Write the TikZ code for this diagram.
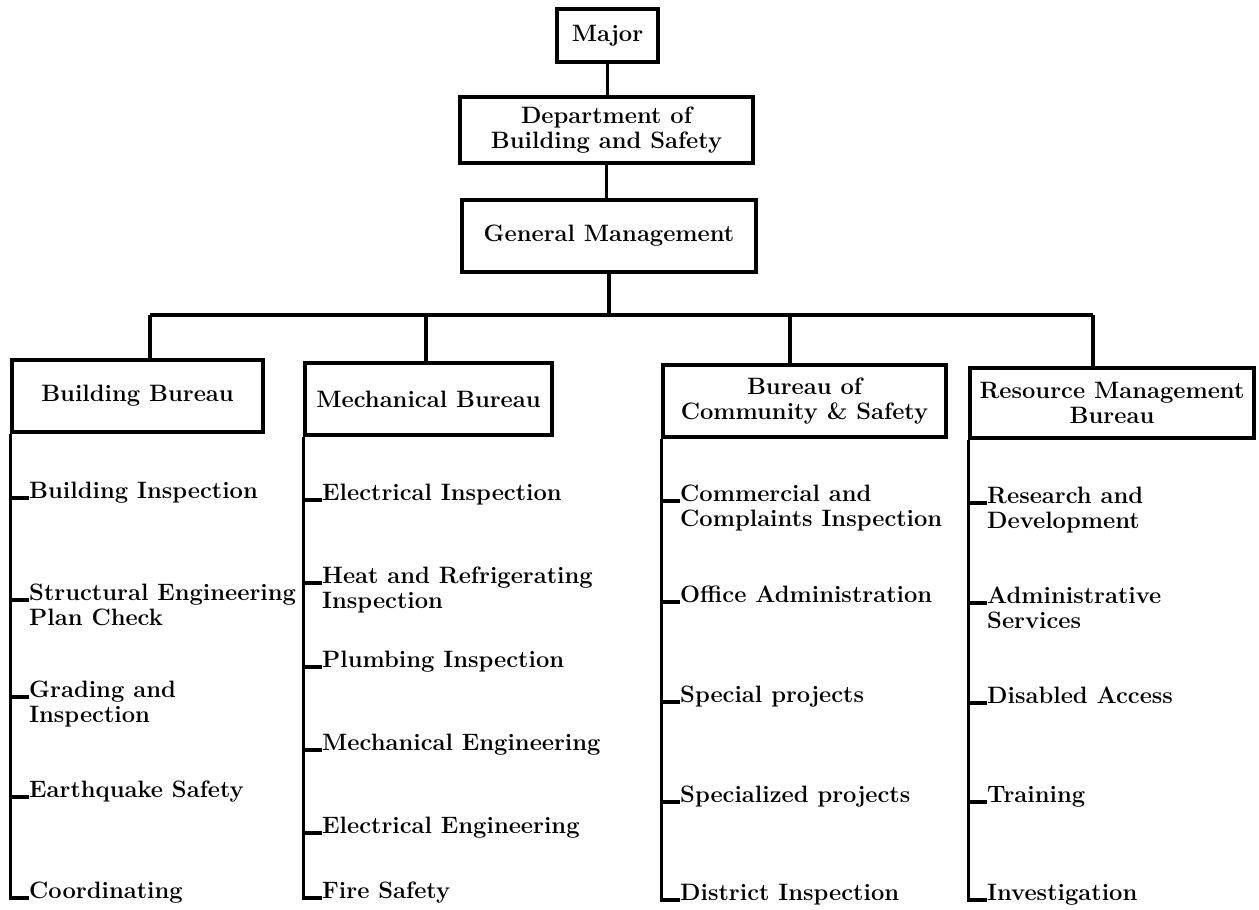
\documentclass[tikz,border=0pt]{standalone}
\usepackage{fontspec}
\newcommand\chartfont{\fontsize{23.7}{25.5}\selectfont\bfseries}
\newcommand\twoline[2]{\vtop{\hbox{#1}\hbox{#2}}}
\tikzset{
  orgbox/.style={draw, line width=3.4pt, inner sep=0pt, align=center, font=\chartfont},
  unit/.style={anchor=base west, inner sep=0pt, font=\chartfont},
  link/.style={line width=3.4pt}
}
\begin{document}
\begin{tikzpicture}[x=1pt, y=-1pt]
\useasboundingbox (0,0) rectangle (1259,910);

% top of the hierarchy
\node[orgbox, minimum width=101pt, minimum height=53pt] (major) at (607.5,35.5) {Major};
\node[orgbox, minimum width=293pt, minimum height=66pt] (dept) at (606.5,130) {Department of\\Building and Safety};
\node[orgbox, minimum width=294pt, minimum height=72pt] (gm) at (609,236) {General Management};

% bureaus
\node[orgbox, minimum width=251pt, minimum height=72pt] (b1) at (137.5,396) {Building Bureau};
\node[orgbox, minimum width=247pt, minimum height=72pt] (b2) at (428.5,399) {Mechanical Bureau};
\node[orgbox, minimum width=283pt, minimum height=72pt] (b3) at (804.5,401) {Bureau of\\Community \& Safety};
\node[orgbox, minimum width=284pt, minimum height=70pt] (b4) at (1112,403) {Resource Management\\Bureau};

% distribution bar
\coordinate (d1) at (150,315);
\coordinate (d2) at (426,315);
\coordinate (d3) at (790,315);
\coordinate (d4) at (1093,315);

\draw[link] (major.south) -- (major.south |- dept.north);
\draw[link] (dept.south) -- (dept.south |- gm.north);
\draw[link] (gm.south) -- (gm.south |- d1);
\draw[link] (d1) -- (d4);
\foreach \i in {1,2,3,4} \draw[link] (d\i) -- (d\i |- b\i.north);

% Building Bureau units
\node[unit] (bi1) at (29,498) {Building Inspection};
\node[unit] (bi2) at (29,600) {\twoline{Structural Engineering}{Plan Check}};
\node[unit] (bi3) at (29,697) {\twoline{Grading and}{Inspection}};
\node[unit] (bi4) at (29,797) {Earthquake Safety};
\node[unit] (bi5) at (29,898) {Coordinating};

% Mechanical Bureau units
\node[unit] (mi1) at (322,500) {Electrical Inspection};
\node[unit] (mi2) at (322,583) {\twoline{Heat and Refrigerating}{Inspection}};
\node[unit] (mi3) at (322,667) {Plumbing Inspection};
\node[unit] (mi4) at (322,750) {Mechanical Engineering};
\node[unit] (mi5) at (322,833) {Electrical Engineering};
\node[unit] (mi6) at (322,898) {Fire Safety};

% Bureau of Community & Safety units
\node[unit] (ci1) at (680,501) {\twoline{Commercial and}{Complaints Inspection}};
\node[unit] (ci2) at (680,602) {Office Administration};
\node[unit] (ci3) at (680,702) {Special projects};
\node[unit] (ci4) at (680,802) {Specialized projects};
\node[unit] (ci5) at (680,900) {District Inspection};

% Resource Management Bureau units
\node[unit] (ri1) at (987,503) {\twoline{Research and}{Development}};
\node[unit] (ri2) at (987,603) {\twoline{Administrative}{Services}};
\node[unit] (ri3) at (987,703) {Disabled Access};
\node[unit] (ri4) at (987,802) {Training};
\node[unit] (ri5) at (987,900) {Investigation};

% spines with ticks to each unit
\foreach \n in {1,...,5} \draw[link] (b1.south west) |- (bi\n.base west);
\foreach \n in {1,...,6} \draw[link] (b2.south west) |- (mi\n.base west);
\foreach \n in {1,...,5} \draw[link] (b3.south west) |- (ci\n.base west);
\foreach \n in {1,...,5} \draw[link] (b4.south west) |- (ri\n.base west);
\end{tikzpicture}
\end{document}
